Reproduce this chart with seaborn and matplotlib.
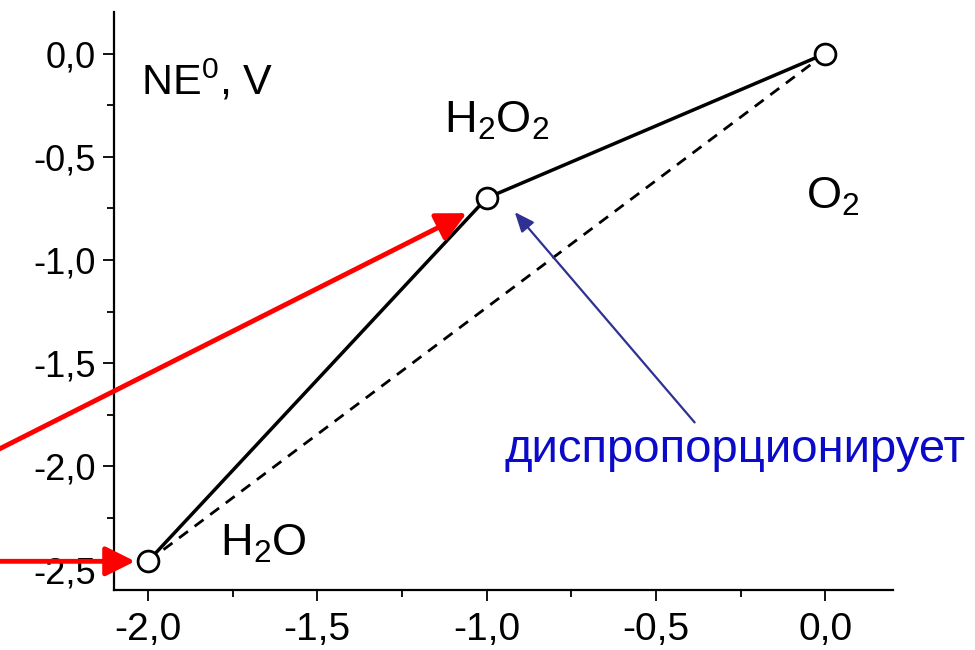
import matplotlib
matplotlib.use("Agg")
import matplotlib.pyplot as plt
import seaborn as sns
import pandas as pd

# ---- data ----
oxidation_state = [-2, -1, 0]
n_e0 = [-2.46, -0.70, 0.0]
species = ["H$_2$O", "H$_2$O$_2$", "O$_2$"]
x_ticks = [-2.0, -1.5, -1.0, -0.5, 0.0]
x_tick_labels = ["-2,0", "-1,5", "-1,0", "-0,5", "0,0"]
y_ticks = [-2.5, -2.0, -1.5, -1.0, -0.5, 0.0]
y_tick_labels = ["-2,5", "-2,0", "-1,5", "-1,0", "-0,5", "0,0"]
y_label_text = "NE$^0$, V"
annotation_text = "диспропорционирует"

df = pd.DataFrame({"ox": oxidation_state, "ne": n_e0})

sns.set_style("ticks")
plt.rcParams["font.family"] = ["Liberation Sans", "DejaVu Sans"]
plt.rcParams["mathtext.fontset"] = "custom"
plt.rcParams["mathtext.rm"] = "Liberation Sans"
plt.rcParams["mathtext.it"] = "Liberation Sans:italic"
plt.rcParams["mathtext.bf"] = "Liberation Sans:bold"

fig = plt.figure(figsize=(9.75, 6.5), dpi=100)
ax = fig.add_axes([0.117, 0.092, 0.799, 0.889])

# dashed line between end points
ax.plot([oxidation_state[0], oxidation_state[-1]], [n_e0[0], n_e0[-1]],
        color="black", lw=2.0, ls=(0, (4, 3)), zorder=2)

sns.lineplot(data=df, x="ox", y="ne", ax=ax, color="black", lw=2.5,
             marker="o", markersize=15, markerfacecolor="white",
             markeredgecolor="black", markeredgewidth=2, zorder=3,
             sort=False)

ax.set_xlim(-2.1, 0.2)
ax.set_ylim(-2.6, 0.2)
ax.set_xticks(x_ticks)
ax.set_xticklabels(x_tick_labels)
ax.set_yticks(y_ticks)
ax.set_yticklabels(y_tick_labels)
ax.set_xticks([-1.75, -1.25, -0.75, -0.25], minor=True)
ax.set_yticks([-2.25, -1.75, -1.25, -0.75, -0.25], minor=True)
ax.set_xlabel("")
ax.set_ylabel("")
ax.tick_params(axis="both", which="major", length=8, width=1.3,
               color="black", labelcolor="black")
ax.tick_params(axis="x", which="major", labelsize=28, pad=8)
ax.tick_params(axis="y", which="major", labelsize=26, pad=5)
ax.tick_params(axis="both", which="minor", length=5, width=1.3, color="black")
sns.despine(ax=ax)
for s in ["left", "bottom"]:
    ax.spines[s].set_linewidth(1.6)
    ax.spines[s].set_color("black")

# species labels, offset from their points
offsets = [(52, 4), (-31, 47), (-14, -112)]
for xo, yo, lab, off in zip(oxidation_state, n_e0, species, offsets):
    ax.annotate(lab, xy=(xo, yo), xytext=off, textcoords="offset points",
                ha="left", va="baseline", fontsize=32.5, color="black")

ax.text(0.035, 0.858, y_label_text, transform=ax.transAxes, fontsize=31,
        ha="left", va="baseline", color="black")

# red arrows from outside the axes
red_props = dict(arrowstyle="-|>,head_length=1.8,head_width=0.9",
                 mutation_scale=10, color="#ff0000", lw=3.5,
                 shrinkA=0, shrinkB=0)
ax.annotate("", xy=(-1.059, -0.773), xytext=(-2.45, -1.925),
            arrowprops=red_props, annotation_clip=False, zorder=4)
ax.annotate("", xy=(-2.038, n_e0[0]), xytext=(-2.45, n_e0[0]),
            arrowprops=red_props, annotation_clip=False, zorder=4)

# blue arrow and text
ax.annotate("", xy=(-0.917, -0.768), xytext=(-0.386, -1.787),
            arrowprops=dict(arrowstyle="-|>,head_length=1.2,head_width=0.5",
                            mutation_scale=10, color="#2e3192", lw=1.6,
                            shrinkA=0, shrinkB=0),
            annotation_clip=False, zorder=4)
ax.text(-0.948, -1.98, annotation_text, fontsize=34, color="#0a0ac8",
        ha="left", va="baseline")

fig.savefig("out.png", dpi=100)
